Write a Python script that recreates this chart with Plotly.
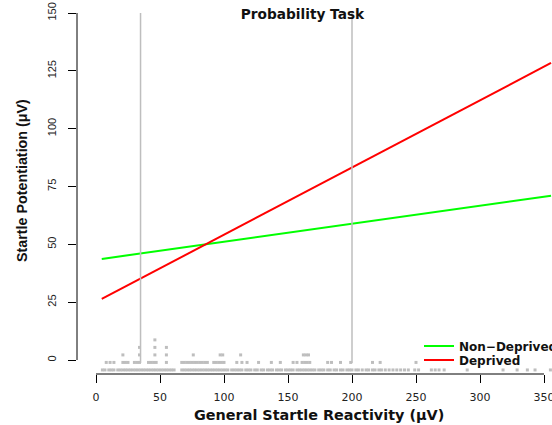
import plotly.graph_objects as go

# ---- data ----
line_x = [4.5, 355.5]
nondeprived_y = [43.7, 71.0]
deprived_y = [26.4, 128.4]

vline_x = [34.8, 200.0]
vline_y = [-1.3, 150]

# stacked dot-strip of reactivity values (one list per stack level)
rug_level0 = [5, 7, 10, 12, 14, 17, 19, 21, 23, 25, 27, 29, 31, 33, 35, 37, 39, 41,
              43, 45, 47, 49, 51, 53, 55, 57, 59, 61,
              67, 69, 71, 73, 75, 77, 79, 81, 83, 85, 87, 89,
              91, 93, 95, 97, 99, 101, 103, 106, 108, 110, 112, 114, 117, 119, 121,
              124, 126, 129, 131, 134, 136, 138, 141, 143, 145,
              148, 150, 152, 154, 157, 159, 161, 163, 165, 167, 169, 171, 174, 176,
              178, 181, 183, 186, 188, 191, 193, 196,
              198, 200, 203, 205, 208, 211, 213, 216, 218, 221, 223, 226, 229, 232,
              235, 238, 241, 244,
              249, 252, 262, 265, 268, 272, 290, 318, 329, 337, 343, 355]
rug_level1 = [8, 11, 14, 21, 23, 25, 30, 32, 34, 41, 43, 45, 47, 55, 67, 69, 71, 73,
              75, 77, 79, 81, 83, 85, 87, 92, 94, 96, 98, 100, 110, 114, 118, 127,
              137, 144, 154, 157, 161, 163, 165, 167, 181, 184, 191, 199, 216, 222, 250]
rug_level2 = [21, 34, 46, 55, 76, 97, 99, 113, 162, 164, 166]
rug_level3 = [34, 46, 55]
rug_level4 = [46]
rug_levels = [rug_level0, rug_level1, rug_level2, rug_level3, rug_level4]

x_ticks = [0, 50, 100, 150, 200, 250, 300, 350]
y_ticks = [0, 25, 50, 75, 100, 125, 150]

title_text = "Probability Task"
x_title = "General Startle Reactivity (\u03bcV)"
y_title = "Startle Potentiation (\u03bcV)"

# ---- styling constants ----
W, H = 552, 425
FONT = "Liberation Sans, Arial, Helvetica, sans-serif"
WIDE = "DejaVu Sans, Verdana, sans-serif"
RUG_BASE = -4.3
RUG_STEP = 3.25
GRAY = "#BEBEBE"
TXT = "#111"

fig = go.Figure()

fig.add_trace(go.Scatter(x=line_x, y=nondeprived_y, mode="lines",
                         line=dict(color="#00FF00", width=2),
                         name="<b>Non\u2212Deprived</b>", legend="legend"))
fig.add_trace(go.Scatter(x=line_x, y=deprived_y, mode="lines",
                         line=dict(color="#FF0000", width=2),
                         name="<b>Deprived</b>", legend="legend2"))

for vx in vline_x:
    fig.add_trace(go.Scatter(x=[vx, vx], y=vline_y, mode="lines",
                             line=dict(color=GRAY, width=1.5),
                             showlegend=False, hoverinfo="skip"))

for lvl, xs in enumerate(rug_levels):
    fig.add_trace(go.Scatter(x=xs, y=[RUG_BASE + lvl * RUG_STEP] * len(xs),
                             mode="markers",
                             marker=dict(symbol="square", size=3, color=GRAY,
                                         line=dict(width=0)),
                             showlegend=False, cliponaxis=False))

# detached R-style axis lines
fig.add_shape(type="line", xref="x", yref="paper", x0=x_ticks[0], x1=x_ticks[-1],
              y0=0, y1=0, line=dict(color="black", width=1))
fig.add_shape(type="line", xref="paper", yref="y", x0=0, x1=0,
              y0=y_ticks[0], y1=y_ticks[-1], line=dict(color="black", width=1))

# axis titles as annotations (container pixel placement)
fig.add_annotation(text="<b>" + x_title + "</b>", xref="paper", yref="paper",
                   x=(319 - 77) / 475, y=(374 - 415) / 366,
                   xanchor="center", yanchor="middle", showarrow=False,
                   font=dict(family=WIDE, size=14.4, color=TXT))
fig.add_annotation(text="<b>" + y_title + "</b>", xref="paper", yref="paper",
                   x=(22 - 77) / 475, y=(374 - 181) / 366, textangle=-90,
                   xanchor="center", yanchor="middle", showarrow=False,
                   font=dict(family=FONT, size=14.3, color=TXT))

legend_x = (419 - 77) / 475
fig.update_layout(
    width=W, height=H, autosize=False,
    margin=dict(l=77, r=0, t=8, b=51, autoexpand=False),
    paper_bgcolor="white", plot_bgcolor="white",
    font=dict(family=FONT, color=TXT),
    title=dict(text="<b>" + title_text + "</b>", x=302.5 / W, xref="container",
               xanchor="center", y=1 - 14 / H, yref="container", yanchor="middle",
               automargin=False,
               font=dict(size=13.7, family=WIDE, color=TXT)),
    xaxis=dict(range=[-14.84, 356.25], showgrid=False, zeroline=False, showline=False,
               automargin=False, ticklabeloverflow="allow",
               ticks="outside", ticklen=8, tickwidth=1, tickcolor="black",
               ticklabelstandoff=5,
               tickvals=x_ticks, ticktext=[str(v) for v in x_ticks],
               tickfont=dict(size=11, family=WIDE, color="#222")),
    yaxis=dict(range=[-6.05, 152.16], showgrid=False, zeroline=False, showline=False,
               automargin=False, ticklabeloverflow="allow",
               ticks="outside", ticklen=8, tickwidth=1, tickcolor="black",
               ticklabelstandoff=8,
               tickvals=y_ticks, ticktext=[str(v) for v in y_ticks], tickangle=-90,
               tickfont=dict(size=11, color="#222")),
    legend=dict(x=legend_x, xanchor="left", y=(374 - 346) / 366, yanchor="middle",
                bgcolor="rgba(0,0,0,0)", font=dict(size=12, family=WIDE, color=TXT),
                itemwidth=30),
    legend2=dict(x=legend_x, xanchor="left", y=(374 - 360) / 366, yanchor="middle",
                 bgcolor="rgba(0,0,0,0)", font=dict(size=12, family=WIDE, color=TXT),
                 itemwidth=30),
)

fig.write_html("out.html", config={"displayModeBar": False},
               post_script="document.body.style.margin='0';")
